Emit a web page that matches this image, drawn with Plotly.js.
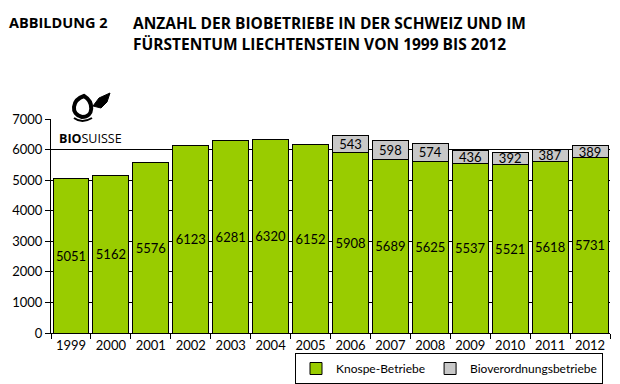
<!DOCTYPE html>
<html>
<head>
<meta charset="utf-8">
<script src="https://cdn.plot.ly/plotly-3.0.1.min.js"></script>
<style>html,body{margin:0;padding:0;background:#fff;}#chart{width:620px;height:384px;}</style>
</head>
<body>
<div id="chart"></div>
<script>
var years = ['1999','2000','2001','2002','2003','2004','2005','2006','2007','2008','2009','2010','2011','2012'];
var knospe = [5051,5162,5576,6123,6281,6320,6152,5908,5689,5625,5537,5521,5618,5731];
var bioverordnung = [null,null,null,null,null,null,null,543,598,574,436,392,387,389];
var yTicks = [0,1000,2000,3000,4000,5000,6000,7000];
var gridTicks = [1000,2000,3000,4000,5000,6000];

var FONT = 'Lato, "Open Sans", sans-serif';
var TFONT = '"Open Sans", sans-serif';

var traces = [
  {
    type: 'bar', name: 'Knospe-Betriebe', x: years, y: knospe,
    text: knospe.map(String), textposition: 'inside', insidetextanchor: 'middle',
    textangle: 0, constraintext: 'none',
    textfont: {family: FONT, size: 13, color: '#000'},
    marker: {color: '#99cc00', line: {color: '#000', width: 1}},
    hoverinfo: 'none'
  },
  {
    type: 'bar', name: 'Bioverordnungsbetriebe', x: years, y: bioverordnung,
    text: bioverordnung.map(function(v){return v === null ? '' : String(v);}),
    textposition: 'inside', insidetextanchor: 'middle', textangle: 0, constraintext: 'none',
    textfont: {family: FONT, size: 13, color: '#000'},
    marker: {color: '#c8c8c8', line: {color: '#000', width: 1}},
    hoverinfo: 'none'
  },
  {
    type: 'scatter', mode: 'lines', x: years, y: knospe.map(function(){return null;}), yaxis: 'y2',
    showlegend: false, hoverinfo: 'none'
  }
];

function px(x){return (x-51)/559;}
function py(y){return (333-y)/214;}

var layout = {
  width: 620, height: 384, autosize: false,
  margin: {l: 51, r: 10, t: 119, b: 51, autoexpand: false},
  paper_bgcolor: '#fff', plot_bgcolor: 'rgba(0,0,0,0)',
  barmode: 'stack', bargap: 0.1,
  uniformtext: {mode: 'show', minsize: 13},
  showlegend: true,
  font: {family: FONT, size: 13, color: '#000'},
  xaxis: {
    type: 'category', range: [-0.5, years.length - 0.5], autorange: false,
    showgrid: false, showline: true, linecolor: '#000', linewidth: 1,
    ticks: 'outside', ticklen: 5, tickcolor: '#000', tickson: 'boundaries',
    tickangle: 0, automargin: false,
    tickfont: {family: FONT, size: 13, color: '#000'}
  },
  yaxis: {
    range: [0, 7000], tickvals: yTicks, ticktext: yTicks.map(String), automargin: false,
    showgrid: false, zeroline: false, showline: true, linecolor: '#000', linewidth: 1,
    ticks: 'outside', ticklen: 5, tickcolor: '#000',
    tickfont: {family: FONT, size: 13, color: '#000'}
  },
  yaxis2: {
    overlaying: 'y', range: [0, 7000], tickvals: gridTicks, showticklabels: false,
    showgrid: true, gridcolor: '#000', gridwidth: 1, zeroline: false, showline: false,
    layer: 'below traces', automargin: false
  },
  legend: {
    orientation: 'h', traceorder: 'normal', x: px(603), xanchor: 'right', y: py(353), yanchor: 'top',
    bordercolor: '#000', borderwidth: 1, bgcolor: '#fff',
    font: {family: FONT, size: 12, color: '#000'},
    itemwidth: 30, tracegroupgap: 0
  },
  annotations: [
    {xref: 'paper', yref: 'paper', x: px(7), y: py(23), xanchor: 'left', yanchor: 'middle',
     text: '<b>ABBILDUNG 2</b>', showarrow: false, font: {family: TFONT, size: 14.5, color: '#000'}},
    {xref: 'paper', yref: 'paper', x: px(131), y: py(23), xanchor: 'left', yanchor: 'middle',
     text: '<b>ANZAHL DER BIOBETRIEBE IN DER SCHWEIZ UND IM</b>', showarrow: false,
     font: {family: TFONT, size: 15.5, color: '#000'}},
    {xref: 'paper', yref: 'paper', x: px(131), y: py(44), xanchor: 'left', yanchor: 'middle',
     text: '<b>FÜRSTENTUM LIECHTENSTEIN VON 1999 BIS 2012</b>', showarrow: false,
     font: {family: TFONT, size: 15.5, color: '#000'}},
    {xref: 'paper', yref: 'paper', x: px(57), y: py(138), xanchor: 'left', yanchor: 'middle',
     text: '<b>BIO</b>SUISSE', showarrow: false, bgcolor: '#fff',
     font: {family: TFONT, size: 12.5, color: '#000'}}
  ],
  shapes: [
    {type: 'rect', xref: 'paper', yref: 'paper', x0: px(57), x1: px(125), y0: py(145), y1: py(129),
     fillcolor: '#fff', line: {width: 0}, layer: 'above'},
    {type: 'path', xref: 'paper', yref: 'paper', layer: 'above',
     path: 'M ' + px(84) + ' ' + py(96) + ' C ' + px(72) + ' ' + py(100) + ' ' + px(70) + ' ' + py(114) + ' ' + px(82) + ' ' + py(117) +
           ' C ' + px(94) + ' ' + py(117) + ' ' + px(94) + ' ' + py(102) + ' ' + px(84) + ' ' + py(96) + ' Z',
     fillcolor: 'rgba(0,0,0,0)', line: {color: '#000', width: 4}},
    {type: 'path', xref: 'paper', yref: 'paper', layer: 'above',
     path: 'M ' + px(74) + ' ' + py(118) + ' Q ' + px(82) + ' ' + py(124) + ' ' + px(92) + ' ' + py(118),
     fillcolor: 'rgba(0,0,0,0)', line: {color: '#000', width: 2}},
    {type: 'path', xref: 'paper', yref: 'paper', layer: 'above',
     path: 'M ' + px(93) + ' ' + py(106) + ' L ' + px(99) + ' ' + py(98) + ' L ' + px(110) + ' ' + py(93) +
           ' L ' + px(107) + ' ' + py(102) + ' L ' + px(101) + ' ' + py(108) + ' Z',
     fillcolor: '#000', line: {color: '#000', width: 1}}
  ]
};

Plotly.newPlot('chart', traces, layout, {staticPlot: true, displayModeBar: false});
</script>
</body>
</html>
